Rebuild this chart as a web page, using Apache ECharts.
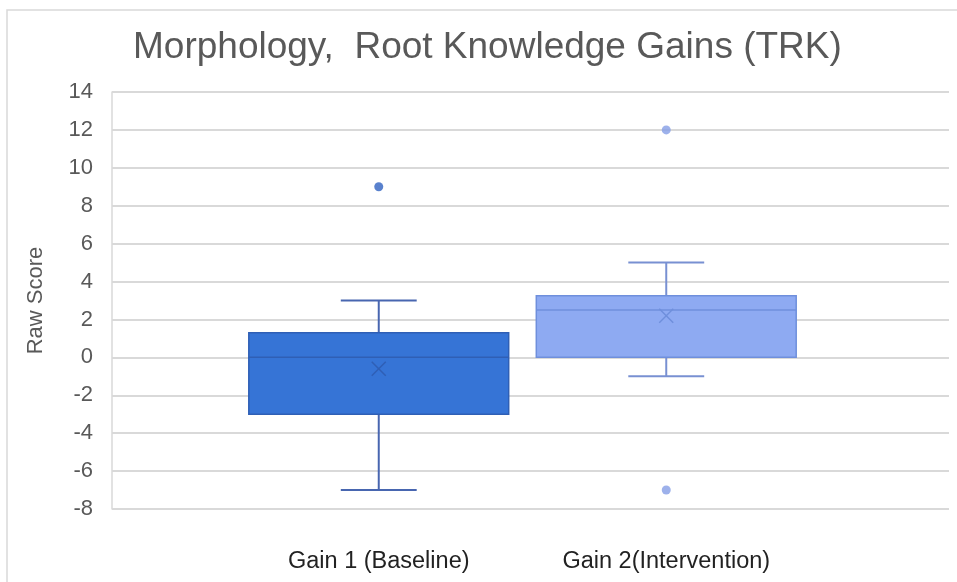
<!DOCTYPE html>
<html><head><meta charset="utf-8">
<script src="https://cdn.jsdelivr.net/npm/echarts@6/dist/echarts.min.js"></script>
<style>html,body{margin:0;padding:0;background:#fff;}#c{width:957px;height:582px;}</style>
</head><body><div id="c"></div>
<script>
const categories = ['Gain 1 (Baseline)', 'Gain 2(Intervention)'];
// [min whisker, Q1, median, Q3, max whisker, mean]
const gain1Box = [-7, -3, 0, 1.3, 3, -0.6];
const gain2Box = [-1, 0, 2.5, 3.25, 5, 2.2];
const gain1Outliers = [9];
const gain2Outliers = [12, -7];
const yTicks = {min: -8, max: 14, interval: 2};

const styles = [
  {fill: '#3674d6', border: '#2f5fb5', whisker: '#4866b0', dot: '#2f62c0'},
  {fill: '#8eaaf2', border: '#6f8fdc', whisker: '#7890d2', dot: '#849ee6'}
];

const boxes = [gain1Box, gain2Box];
const boxData = boxes.map((b, i) => [i].concat(b));
const outlierData = [];
gain1Outliers.forEach(v => outlierData.push({value: [0, v], itemStyle: {color: styles[0].dot}}));
gain2Outliers.forEach(v => outlierData.push({value: [1, v], itemStyle: {color: styles[1].dot}}));

function renderBox(params, api) {
  const idx = api.value(0);
  const st = styles[idx];
  const band = api.size([1, 0])[0];
  const bw = band * 0.904;
  const cw = band * 0.264;
  const pMin = api.coord([idx, api.value(1)]);
  const pQ1 = api.coord([idx, api.value(2)]);
  const pMed = api.coord([idx, api.value(3)]);
  const pQ3 = api.coord([idx, api.value(4)]);
  const pMax = api.coord([idx, api.value(5)]);
  const pMean = api.coord([idx, api.value(6)]);
  const x = pMed[0];
  const lw = 2;
  const xs = 7;
  return {
    type: 'group',
    children: [
      {type: 'line', shape: {x1: x, y1: pMax[1], x2: x, y2: pQ3[1]}, style: {stroke: st.whisker, lineWidth: lw}},
      {type: 'line', shape: {x1: x, y1: pQ1[1], x2: x, y2: pMin[1]}, style: {stroke: st.whisker, lineWidth: lw}},
      {type: 'line', shape: {x1: x - cw / 2, y1: pMax[1], x2: x + cw / 2, y2: pMax[1]}, style: {stroke: st.whisker, lineWidth: lw}},
      {type: 'line', shape: {x1: x - cw / 2, y1: pMin[1], x2: x + cw / 2, y2: pMin[1]}, style: {stroke: st.whisker, lineWidth: lw}},
      {type: 'rect', shape: {x: x - bw / 2, y: pQ3[1], width: bw, height: pQ1[1] - pQ3[1]}, style: {fill: st.fill, stroke: st.border, lineWidth: 1.5}},
      {type: 'line', shape: {x1: x - bw / 2, y1: pMed[1], x2: x + bw / 2, y2: pMed[1]}, style: {stroke: st.border, lineWidth: 1.5}},
      {type: 'line', shape: {x1: x - xs, y1: pMean[1] - xs, x2: x + xs, y2: pMean[1] + xs}, style: {stroke: st.border, lineWidth: 1.5}},
      {type: 'line', shape: {x1: x - xs, y1: pMean[1] + xs, x2: x + xs, y2: pMean[1] - xs}, style: {stroke: st.border, lineWidth: 1.5}}
    ]
  };
}

const chart = echarts.init(document.getElementById('c'), null, {renderer: 'canvas'});
chart.setOption({
  animation: false,
  backgroundColor: '#fff',
  textStyle: {fontFamily: 'Liberation Sans, Arial, sans-serif'},
  title: {
    text: 'Morphology,  Root Knowledge Gains (TRK)',
    left: 128, top: 24,
    textStyle: {fontSize: 37, fontWeight: 'normal', color: '#595959', fontFamily: 'Liberation Sans, Arial, sans-serif'}
  },
  graphic: [{type: 'rect', shape: {x: 7, y: 10, width: 980, height: 620}, style: {fill: 'none', stroke: '#d9d9d9', lineWidth: 1.5}, silent: true, z: -1}],
  grid: [
    {left: 112, right: 8, top: 92, bottom: 73},
    {left: 235, width: 575, top: 92, bottom: 73}
  ],
  xAxis: [
    {gridIndex: 0, type: 'category', data: [''], show: false},
    {gridIndex: 1, type: 'category', data: categories,
     axisLine: {show: false}, axisTick: {show: false},
     axisLabel: {fontSize: 23.5, color: '#222', margin: 41}}
  ],
  yAxis: [
    {gridIndex: 0, type: 'value', min: yTicks.min, max: yTicks.max, interval: yTicks.interval,
     name: 'Raw Score', nameLocation: 'middle', nameGap: 65,
     nameTextStyle: {fontSize: 22, color: '#595959'},
     axisLine: {show: true, lineStyle: {color: '#d9d9d9', width: 1.5}}, axisTick: {show: false},
     axisLabel: {fontSize: 22, color: '#595959', margin: 19},
     splitLine: {lineStyle: {color: '#d9d9d9', width: 2}}},
    {gridIndex: 1, type: 'value', min: yTicks.min, max: yTicks.max, interval: yTicks.interval, show: false}
  ],
  series: [
    {type: 'custom', xAxisIndex: 1, yAxisIndex: 1, renderItem: renderBox,
     encode: {x: 0, y: [1, 2, 3, 4, 5, 6]}, data: boxData},
    {type: 'scatter', xAxisIndex: 1, yAxisIndex: 1, symbolSize: 9, data: outlierData}
  ]
});
</script></body></html>
